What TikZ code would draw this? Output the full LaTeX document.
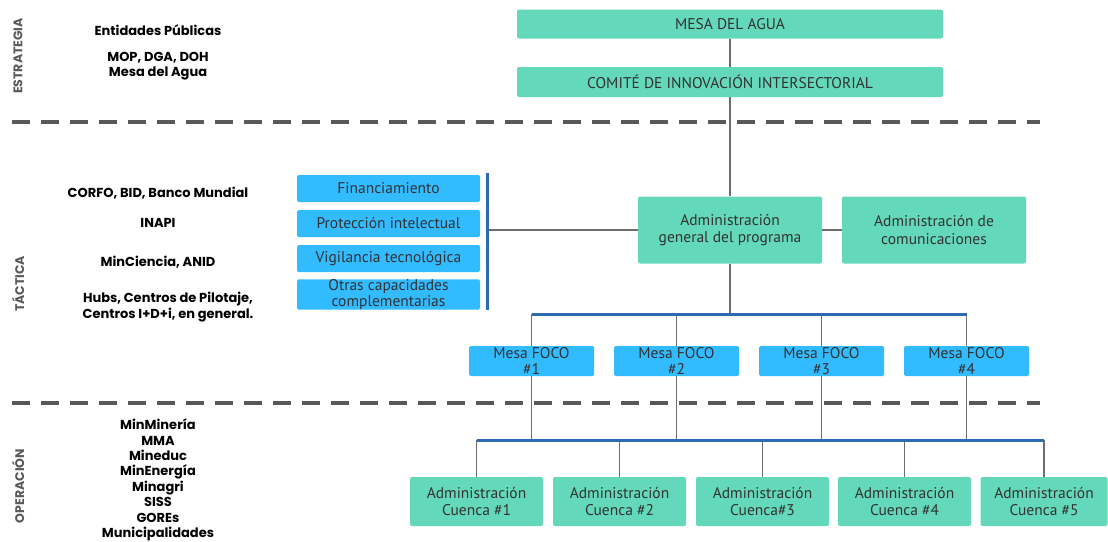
\documentclass[tikz,border=0pt]{standalone}
\usepackage{fontspec}
\setmainfont{PT Sans}
\newfontfamily\etiq{Poppins}
\definecolor{verdeCaja}{RGB}{100,216,186}
\definecolor{celesteCaja}{RGB}{51,187,255}
\definecolor{azulBarra}{RGB}{46,106,179}
\definecolor{grisLinea}{RGB}{110,110,110}
\definecolor{texto}{RGB}{50,50,50}
\tikzset{
  verde/.style={fill=verdeCaja,rounded corners=2pt,text=texto,inner sep=0pt,align=center,
    font=\fontsize{15.5}{17.5}\selectfont},
  celeste/.style={fill=celesteCaja,rounded corners=1.5pt,text=texto,inner sep=0pt,align=center,
    font=\fontsize{15.5}{16}\selectfont},
  etiqueta/.style={font=\etiq\bfseries\fontsize{13}{15.4}\selectfont,align=center,text=black},
  nivel/.style={rotate=90,font=\etiq\bfseries\fontsize{12.5}{14}\selectfont,text=black!65},
  conector/.style={draw=grisLinea,line width=1.3pt},
  barra/.style={draw=azulBarra,line width=3pt},
  division/.style={draw=black!65,line width=4.5pt,dash pattern=on 18pt off 11pt}
}
\begin{document}
\begin{tikzpicture}[x=1pt,y=-1pt]
\useasboundingbox (0,0) rectangle (1108,541);
\def\caja#1#2#3#4{\node[#1,minimum width=#2pt,minimum height=#3pt] #4;}

% niveles
\node[nivel] at (18,56) (estrategia) {ESTRATEGIA};
\node[nivel] at (18,284) (tactica) {TÁCTICA};
\node[nivel] at (18,486) (operacion) {OPERACIÓN};
\draw[division] (12,122) -- (1040,122);
\draw[division] (12,403) -- (1040,403);

% entidades
\node[etiqueta] at (158,30) (entidades) {Entidades Públicas};
\node[etiqueta] at (158,66) (mop) {MOP, DGA, DOH\\Mesa del Agua};
\node[etiqueta] at (158,193) (corfo) {CORFO, BID, Banco Mundial};
\node[etiqueta] at (158,223) (inapi) {INAPI};
\node[etiqueta] at (158,262) (minciencia) {MinCiencia, ANID};
\node[etiqueta] at (168,307) (hubs) {Hubs, Centros de Pilotaje,\\Centros I+D+i, en general.};
\node[etiqueta] at (158,480) (ministerios) {MinMinería\\MMA\\Mineduc\\MinEnergía\\Minagri\\SISS\\GOREs\\Municipalidades};

% estrategia
\caja{verde}{426}{29}{at (730,24) (mesa) {MESA DEL AGUA}}
\caja{verde}{426}{30}{at (730,82) (comite) {COMITÉ DE INNOVACIÓN INTERSECTORIAL}}

% tactica
\caja{verde}{184}{67}{at (730,230) (admgen) {Administración\\general del programa}}
\caja{verde}{184}{67}{at (934,230) (admcom) {Administración de\\comunicaciones}}
\caja{celeste}{183}{27}{at (388.5,188.5) (financ) {Financiamiento}}
\caja{celeste}{183}{27}{at (388.5,223.5) (proteccion) {Protección intelectual}}
\caja{celeste}{183}{27}{at (388.5,258.5) (vigilancia) {Vigilancia tecnológica}}
\caja{celeste}{183}{27}{at (388.5,294.5) (otras) {Otras capacidades\\complementarias}}
\foreach \i/\x in {1/531.5,2/676.5,3/821.5,4/966.5}
  {\caja{celeste}{125}{30}{at (\x,361) (foco\i) {Mesa FOCO\\\#\i}}}

% operacion
\foreach \i/\x/\t in {1/476.5/Cuenca \#1,2/619.5/Cuenca \#2,3/762.5/Cuenca\#3,4/904.5/Cuenca \#4}
  {\caja{verde}{133}{49}{at (\x,501.5) (cuenca\i) {Administración\\\t}}}
\caja{verde}{127}{49}{at (1044,501.5) (cuenca5) {Administración\\Cuenca \#5}}

% conexiones
\coordinate (barraIzq) at (487,173);
\coordinate (barraFoco) at (730,314);
\coordinate (barraCuenca) at (762,440);
\draw[conector] (mesa) -- (comite);
\draw[conector] (comite) -- (admgen);
\draw[conector] (admgen) -- (admcom);
\draw[conector] (admgen.west) -- (admgen.west -| barraIzq);
\draw[barra] (barraIzq) -- ++(0,137);
\draw[conector] (admgen) -- (barraFoco);
\foreach \i in {1,...,4} {
  \draw[conector] (foco\i |- barraFoco) -- (foco\i.north);
  \draw[conector] (foco\i.south) -- (foco\i |- barraCuenca);
}
\foreach \i in {1,...,5}
  \draw[conector] (cuenca\i |- barraCuenca) -- (cuenca\i.north);
\draw[barra] (foco1 |- barraFoco) -- (foco4 |- barraFoco);
\draw[barra] (cuenca1 |- barraCuenca) -- (cuenca5 |- barraCuenca);
\end{tikzpicture}
\end{document}
